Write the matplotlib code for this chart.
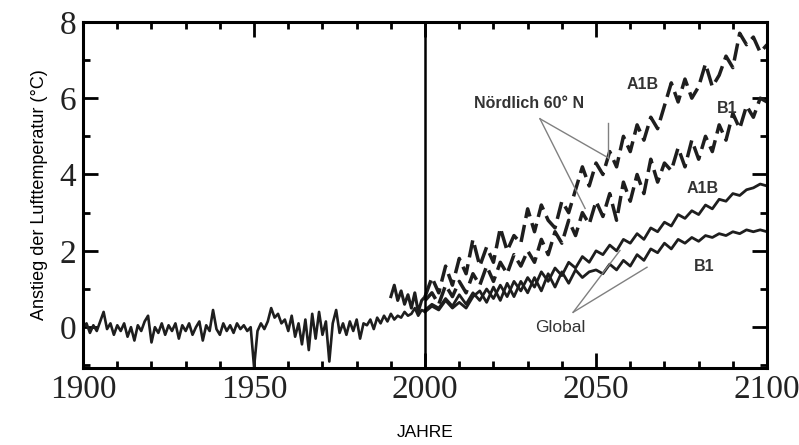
import numpy as np
import matplotlib
matplotlib.use("Agg")
import matplotlib.pyplot as plt
from matplotlib.ticker import MultipleLocator

# Observed global anomaly 1900-2000 (annual)
hist_years = np.arange(1900, 2001)
hist_global = [
    0.0, 0.1, -0.15, 0.05, -0.1, 0.15, 0.4, -0.05, 0.1, -0.2,
    0.05, -0.1, 0.1, -0.25, 0.0, -0.35, 0.05, -0.1, 0.15, 0.3,
    -0.4, 0.0, -0.15, 0.1, -0.2, 0.05, -0.1, 0.1, -0.3, 0.05,
    -0.1, 0.1, -0.2, 0.0, 0.15, -0.35, 0.05, -0.1, 0.45, -0.05,
    -0.2, 0.1, -0.1, 0.05, -0.15, 0.1, -0.05, 0.05, -0.1, 0.0,
    -1.05, -0.1, 0.1, -0.05, 0.15, 0.5, 0.25, 0.35, 0.1, 0.2,
    -0.1, 0.3, -0.25, 0.1, -0.45, 0.2, -0.6, 0.35, -0.3, 0.4,
    -0.2, 0.15, -0.9, 0.1, 0.45, -0.15, 0.1, -0.2, 0.15, -0.1,
    0.2, -0.3, 0.1, 0.05, 0.2, -0.05, 0.25, 0.1, 0.3, 0.15,
    0.35, 0.2, 0.3, 0.25, 0.4, 0.3, 0.35, 0.5, 0.3, 0.45,
    0.4,
]

# Observed north of 60N, 1990-2000
hist_north_years = np.arange(1990, 2001)
hist_north = [0.8, 1.1, 0.7, 0.95, 0.6, 0.85, 0.5, 0.9, 0.4, 0.7, 0.8]

# Scenario projections 2000-2100 (every 2 years)
proj_years = np.arange(2000, 2101, 2)
global_a1b = [
    0.45, 0.6, 0.5, 0.75, 0.55, 0.85,
    0.6, 0.9, 0.7, 1.0, 0.75,
    1.1, 0.8, 1.2, 0.95, 1.3,
    1.05, 1.45, 1.2, 1.55, 1.35,
    1.7, 1.55, 1.85, 1.7, 2.0,
    1.9, 2.15, 2.0, 2.3, 2.2,
    2.45, 2.3, 2.6, 2.5, 2.75,
    2.65, 2.95, 2.85, 3.05, 2.95,
    3.2, 3.1, 3.35, 3.3, 3.5,
    3.45, 3.6, 3.65, 3.75, 3.7,
]
global_b1 = [
    0.4, 0.55, 0.45, 0.7, 0.5, 0.65,
    0.5, 0.8, 0.95, 0.65, 1.05,
    0.7, 1.15, 0.8, 1.2, 0.9,
    1.3, 0.95, 1.4, 1.05, 1.45,
    1.15, 1.5, 1.3, 1.45, 1.5,
    1.4, 1.65, 1.5, 1.75, 1.6,
    1.9, 1.75, 2.05, 1.95, 2.2,
    2.05, 2.3, 2.2, 2.35, 2.25,
    2.4, 2.35, 2.45, 2.4, 2.5,
    2.45, 2.55, 2.5, 2.55, 2.5,
]
north_a1b = [
    0.8, 1.3, 0.9, 1.6, 1.1, 1.8,
    1.4, 2.3, 1.6, 2.1, 1.7,
    2.6, 2.0, 2.4, 2.2, 3.1,
    2.5, 3.2, 2.8, 2.6, 3.3,
    3.0, 3.6, 4.2, 3.7, 4.3,
    4.0, 4.6, 4.2, 5.0, 4.6,
    5.3, 4.9, 5.5, 5.2, 5.8,
    6.4, 5.9, 6.5, 6.0, 6.3,
    6.9, 6.3, 6.6, 7.1, 6.8,
    7.7, 7.4, 7.6, 7.2, 7.4,
]
north_b1 = [
    0.7, 0.9, 0.6, 1.1, 0.8, 1.2,
    0.9, 1.4, 1.1, 1.6, 1.2,
    1.7, 1.4, 1.9, 1.6, 2.0,
    1.7, 2.3, 1.9, 2.5, 2.2,
    2.8, 2.4, 3.0, 2.7, 3.3,
    2.9, 3.5, 2.8, 3.8, 3.3,
    4.0, 3.5, 4.4, 3.8, 4.3,
    4.1, 4.7, 4.2, 4.9, 4.4,
    5.0, 4.6, 5.3, 4.9, 5.6,
    5.2, 5.8, 5.5, 6.0, 5.9,
]

fig = plt.figure(figsize=(7.99, 4.45), dpi=100)
ax = fig.add_axes([0.104, 0.173, 0.856, 0.778])

line_col = "#1e1e1e"
ax.plot(hist_years, hist_global, color=line_col, lw=1.9)
ax.plot(hist_north_years, hist_north, color=line_col, lw=2.2)
ax.plot(proj_years, global_a1b, color=line_col, lw=2.0)
ax.plot(proj_years, global_b1, color=line_col, lw=2.0)
ax.plot(proj_years, north_a1b, color=line_col, lw=2.5, linestyle=(0, (5, 2)))
ax.plot(proj_years, north_b1, color=line_col, lw=2.5, linestyle=(0, (5, 2)))

ax.axvline(2000, color="black", lw=1.8)

ax.set_xlim(1900, 2100)
ax.set_ylim(-1.07, 8)
ax.xaxis.set_major_locator(MultipleLocator(50))
ax.xaxis.set_minor_locator(MultipleLocator(10))
ax.yaxis.set_major_locator(MultipleLocator(2))
ax.yaxis.set_minor_locator(MultipleLocator(1))
ax.tick_params(which="both", direction="in", top=True, right=True, width=2)
ax.tick_params(which="major", length=11, pad=5)
ax.tick_params(which="minor", length=5)
for lab in ax.get_xticklabels() + ax.get_yticklabels():
    lab.set_fontfamily("Liberation Serif")
    lab.set_fontsize(24)
    lab.set_color("#222222")
for sp in ax.spines.values():
    sp.set_linewidth(2.2)

ax.set_xlabel("JAHRE", fontfamily="Liberation Sans", fontsize=12.5, labelpad=14)
ax.set_ylabel("Anstieg der Lufttemperatur (°C)", fontfamily="Liberation Sans",
              fontsize=13, labelpad=8)

txt = dict(fontfamily="Liberation Sans", fontweight="bold", fontsize=11.5,
           color="#333333", ha="center", va="center")
ax.text(2030.4, 5.87, "Nördlich 60° N", **txt)
ax.text(2063.5, 6.37, "A1B", **txt)
ax.text(2088.3, 5.72, "B1", **txt)
ax.text(2081.3, 3.63, "A1B", **txt)
ax.text(2081.6, 1.59, "B1", **txt)
ax.text(2039.5, 0.0, "Global", **dict(txt, fontweight="normal", fontsize=12.5))

# pointer lines
grey = "#808080"
ax.plot([2033.6, 2053.5], [5.46, 4.44], color=grey, lw=1)
ax.plot([2053.5, 2053.5], [5.35, 4.44], color=grey, lw=1)
ax.plot([2033.6, 2046.8], [5.46, 3.11], color=grey, lw=1)
ax.plot([2043.3, 2057.0], [0.39, 2.01], color=grey, lw=1)
ax.plot([2043.3, 2064.9], [0.39, 1.57], color=grey, lw=1)

fig.savefig("out.png", dpi=100)
